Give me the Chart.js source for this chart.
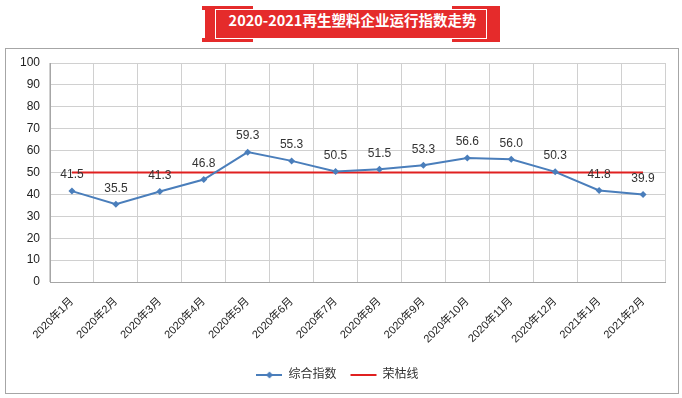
<!DOCTYPE html>
<html>
<head>
<meta charset="utf-8">
<script src="https://cdn.jsdelivr.net/npm/chart.js@4/dist/chart.umd.min.js"></script>
<style>
    body { margin: 0; background: #fff; }
    #wrap { position: relative; width: 682px; height: 398px; overflow: hidden; }
    #frame { position: absolute; left: 5px; top: 48px; width: 672px; height: 344px; border: 1px solid #a6a6a6; }
    #banner { position: absolute; left: 205px; top: 9px; width: 295px; height: 30px; background: #e52b2b; }
    .tab { position: absolute; width: 50px; height: 4px; background: #e52b2b; }
    #inner { position: absolute; left: 215px; top: 9px; width: 270px; height: 28px; border: 1px solid #fff; }
    #title { position: absolute; left: 205px; top: 9px; width: 295px; height: 30px; line-height: 30px; text-align: center;
        color: #fff; font: bold 14.5px "Noto Sans CJK SC", "DejaVu Sans", sans-serif; }
    #chart { position: absolute; left: 0; top: 0; }
</style>
</head>
<body>
<div id="wrap">
    <div id="frame"></div>
    <div id="banner"></div>
    <div class="tab" style="left:202px;top:6px;width:51px"></div>
    <div class="tab" style="left:202px;top:38px;width:51px"></div>
    <div class="tab" style="left:452px;top:6px;width:48px"></div>
    <div class="tab" style="left:452px;top:38px;width:48px"></div>
    <div id="inner"></div>
    <div id="title">2020-2021再生塑料企业运行指数走势</div>
    <canvas id="chart" width="682" height="398"></canvas>
</div>
<script>
const meses = ["2020年1月", "2020年2月", "2020年3月", "2020年4月", "2020年5月", "2020年6月", "2020年7月",
    "2020年8月", "2020年9月", "2020年10月", "2020年11月", "2020年12月", "2021年1月", "2021年2月"];
const indice = [41.5, 35.5, 41.3, 46.8, 59.3, 55.3, 50.5, 51.5, 53.3, 56.6, 56.0, 50.3, 41.8, 39.9];
const rongku = [50, 50, 50, 50, 50, 50, 50, 50, 50, 50, 50, 50, 50, 50];
const yTicks = [0, 10, 20, 30, 40, 50, 60, 70, 80, 90, 100];

const azul = "#4a7ebb";
const rojo = "#e02020";
const fuente = "'Liberation Sans', 'Noto Sans CJK SC', sans-serif";

// icono de leyenda: linea con rombo
const icono = document.createElement("canvas");
icono.width = 26;
icono.height = 8;
const ic = icono.getContext("2d");
ic.strokeStyle = azul;
ic.lineWidth = 2;
ic.beginPath();
ic.moveTo(0, 4);
ic.lineTo(26, 4);
ic.stroke();
ic.fillStyle = azul;
ic.beginPath();
ic.moveTo(13, 0.5);
ic.lineTo(16.5, 4);
ic.lineTo(13, 7.5);
ic.lineTo(9.5, 4);
ic.closePath();
ic.fill();

const etiquetas = {
    id: "etiquetas",
    afterDatasetsDraw(chart) {
        const ctx = chart.ctx;
        const meta = chart.getDatasetMeta(0);
        ctx.save();
        ctx.font = "12px " + fuente;
        ctx.fillStyle = "#333";
        ctx.textAlign = "center";
        ctx.textBaseline = "middle";
        meta.data.forEach((p, i) => {
            ctx.fillText(indice[i].toFixed(1), p.x, p.y - 16);
        });
        ctx.restore();
    }
};

new Chart(document.getElementById("chart"), {
    type: "line",
    data: {
        labels: meses,
        datasets: [{
            label: "综合指数",
            data: indice,
            borderColor: azul,
            backgroundColor: azul,
            borderWidth: 2,
            pointStyle: "rectRot",
            pointRadius: 3.5,
            pointBorderWidth: 0,
            tension: 0,
            order: 1
        }, {
            label: "荣枯线",
            data: rongku,
            borderColor: rojo,
            backgroundColor: rojo,
            borderWidth: 2,
            pointRadius: 0,
            order: 2
        }]
    },
    options: {
        responsive: false,
        animation: false,
        layout: { padding: { left: 10, right: 17, top: 63, bottom: 7 } },
        plugins: {
            tooltip: { enabled: false },
            legend: {
                position: "bottom",
                labels: {
                    usePointStyle: true,
                    pointStyleWidth: 26,
                    padding: 14,
                    color: "#333",
                    font: { size: 12, family: fuente },
                    generateLabels(chart) {
                        return chart.data.datasets.map((ds, i) => ({
                            text: ds.label,
                            datasetIndex: i,
                            pointStyle: i === 0 ? icono : "line",
                            strokeStyle: ds.borderColor,
                            fillStyle: ds.borderColor,
                            lineWidth: 2,
                            fontColor: "#333"
                        }));
                    }
                }
            }
        },
        scales: {
            x: {
                offset: true,
                grid: { offset: true, color: "#d0d0d0", drawTicks: false },
                border: { color: "#a6a6a6" },
                ticks: {
                    autoSkip: false,
                    maxRotation: 45,
                    minRotation: 45,
                    padding: 13,
                    color: "#222",
                    font: { size: 11, family: fuente }
                },
                afterFit(scale) { scale.height = 73; }
            },
            y: {
                min: 0,
                max: 100,
                afterBuildTicks(scale) { scale.ticks = yTicks.map(v => ({ value: v })); },
                grid: { color: "#d0d0d0", drawTicks: false },
                border: { color: "#a6a6a6" },
                ticks: {
                    padding: 10,
                    color: "#222",
                    font: { size: 12, family: fuente }
                },
                afterFit(scale) { scale.width = 40; }
            }
        }
    },
    plugins: [etiquetas]
});
</script>
</body>
</html>
